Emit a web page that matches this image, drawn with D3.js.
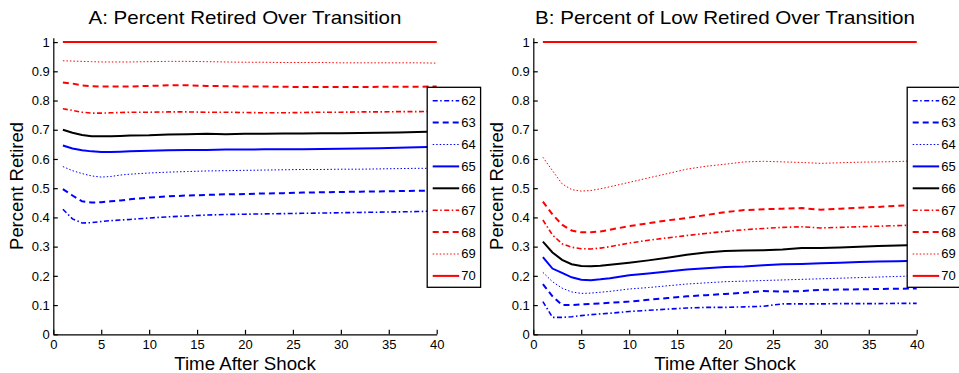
<!DOCTYPE html>
<html>
<head>
<meta charset="utf-8">
<script src="https://cdn.jsdelivr.net/npm/d3@7"></script>
<style>
  body { margin: 0; background: #fff; }
  text { font-family: "Liberation Sans", Arial, sans-serif; fill: #000; }
</style>
</head>
<body>
<svg width="959" height="373"></svg>
<script>
//Retirement ages shown in the legend
let ages = ["62", "63", "64", "65", "66", "67", "68", "69", "70"];
let years = [1, 2, 3, 4, 5, 6, 7, 8, 10, 12, 14, 16, 18, 20, 22, 24, 26, 28, 30, 32, 34, 36, 38, 40];
let xTicks = [0, 5, 10, 15, 20, 25, 30, 35, 40];
let yTicks = [0, 0.1, 0.2, 0.3, 0.4, 0.5, 0.6, 0.7, 0.8, 0.9, 1];

//Panel A: percent retired
let a62 = [0.428,0.395,0.381,0.382,0.386,0.389,0.391,0.393,0.398,0.402,0.405,0.408,0.410,0.411,0.412,0.413,0.414,0.415,0.416,0.417,0.418,0.419,0.420,0.422];
let a63 = [0.497,0.475,0.455,0.451,0.452,0.455,0.458,0.462,0.468,0.472,0.475,0.477,0.479,0.480,0.482,0.483,0.485,0.486,0.487,0.488,0.489,0.490,0.491,0.491];
let a64 = [0.574,0.560,0.550,0.542,0.538,0.540,0.545,0.548,0.552,0.555,0.557,0.559,0.560,0.561,0.562,0.563,0.564,0.564,0.565,0.565,0.566,0.567,0.568,0.568];
let a65 = [0.646,0.636,0.630,0.626,0.624,0.624,0.625,0.626,0.628,0.630,0.631,0.631,0.632,0.632,0.633,0.633,0.633,0.634,0.635,0.636,0.637,0.638,0.640,0.642];
let a66 = [0.700,0.690,0.682,0.678,0.678,0.678,0.679,0.680,0.681,0.684,0.685,0.686,0.685,0.686,0.686,0.687,0.687,0.688,0.688,0.689,0.690,0.691,0.692,0.694];
let a67 = [0.772,0.766,0.760,0.757,0.757,0.758,0.759,0.760,0.760,0.761,0.761,0.760,0.760,0.759,0.758,0.758,0.759,0.760,0.760,0.761,0.761,0.762,0.762,0.763];
let a68 = [0.862,0.858,0.852,0.849,0.848,0.848,0.848,0.848,0.850,0.852,0.852,0.850,0.849,0.848,0.848,0.847,0.846,0.846,0.846,0.846,0.847,0.847,0.847,0.848];
let a69 = [0.936,0.935,0.934,0.933,0.932,0.932,0.932,0.932,0.933,0.934,0.934,0.933,0.932,0.931,0.931,0.930,0.930,0.930,0.929,0.929,0.929,0.929,0.929,0.928];
let a70 = [1,1,1,1,1,1,1,1,1,1,1,1,1,1,1,1,1,1,1,1,1,1,1,1];

//Panel B: percent of low retired
let b62 = [0.112,0.058,0.058,0.060,0.064,0.067,0.070,0.072,0.078,0.082,0.086,0.090,0.092,0.092,0.094,0.096,0.104,0.104,0.104,0.105,0.105,0.105,0.106,0.106];
let b63 = [0.172,0.130,0.100,0.100,0.102,0.104,0.106,0.108,0.112,0.118,0.124,0.130,0.134,0.138,0.142,0.148,0.146,0.148,0.152,0.153,0.154,0.155,0.156,0.157];
let b64 = [0.212,0.180,0.158,0.145,0.140,0.141,0.144,0.147,0.155,0.160,0.166,0.172,0.176,0.180,0.182,0.184,0.186,0.188,0.190,0.192,0.194,0.196,0.198,0.200];
let b65 = [0.264,0.225,0.210,0.195,0.187,0.185,0.188,0.192,0.202,0.208,0.215,0.222,0.226,0.230,0.232,0.236,0.240,0.241,0.243,0.245,0.247,0.249,0.250,0.252];
let b66 = [0.317,0.280,0.255,0.240,0.234,0.233,0.235,0.238,0.245,0.253,0.262,0.272,0.280,0.285,0.287,0.288,0.290,0.295,0.295,0.297,0.300,0.302,0.304,0.306];
let b67 = [0.391,0.340,0.310,0.298,0.293,0.292,0.295,0.300,0.312,0.322,0.330,0.338,0.345,0.352,0.358,0.362,0.366,0.368,0.364,0.366,0.368,0.370,0.372,0.374];
let b68 = [0.454,0.410,0.375,0.355,0.349,0.349,0.352,0.358,0.370,0.380,0.390,0.398,0.408,0.418,0.425,0.428,0.430,0.432,0.426,0.430,0.433,0.436,0.440,0.442];
let b69 = [0.606,0.560,0.515,0.495,0.490,0.492,0.498,0.505,0.520,0.535,0.550,0.565,0.575,0.582,0.590,0.592,0.590,0.588,0.585,0.587,0.589,0.590,0.591,0.594];
let b70 = [1,1,1,1,1,1,1,1,1,1,1,1,1,1,1,1,1,1,1,1,1,1,1,1];

let panelA = [a62, a63, a64, a65, a66, a67, a68, a69, a70];
let panelB = [b62, b63, b64, b65, b66, b67, b68, b69, b70];

//Line style per age: colour, width, dash pattern
let styles = [
  {c: "#0000ff", w: 1.6, d: "5,2.5,1.5,2.5"},
  {c: "#0000ff", w: 2,   d: "6,4"},
  {c: "#0000ff", w: 1,   d: "1.5,2"},
  {c: "#0000ff", w: 2,   d: null},
  {c: "#000000", w: 2,   d: null},
  {c: "#ff0000", w: 1.6, d: "5,2.5,1.5,2.5"},
  {c: "#ff0000", w: 2,   d: "6,4"},
  {c: "#ff0000", w: 1,   d: "1.5,2"},
  {c: "#ff0000", w: 2,   d: null}
];

let svg = d3.select("svg");
let plotTop = 37.7, plotBottom = 334.3, plotW = 383.4;

function drawPanel(left, values, title, titleLen){
  let g = svg.append("g").attr("transform", "translate(" + left + ",0)");
  let x = d3.scaleLinear().domain([0, 40]).range([0, plotW]);
  let y = d3.scaleLinear().domain([0, 1.015]).range([plotBottom, plotTop]);

  //Lines
  let line = d3.line().x((d, i) => x(years[i])).y(d => y(d));
  values.forEach(function(v, k){
    g.append("path")
      .attr("d", line(v))
      .attr("fill", "none")
      .attr("stroke", styles[k].c)
      .attr("stroke-width", styles[k].w)
      .attr("stroke-dasharray", styles[k].d);
  });

  //Axes with inward ticks, left and bottom only
  let xAxis = g.append("g")
    .attr("transform", "translate(0," + plotBottom + ")")
    .call(d3.axisBottom(x).tickValues(xTicks).tickSize(-4.5).tickSizeOuter(0).tickPadding(5.5).tickFormat(d3.format("d")));
  let yAxis = g.append("g")
    .call(d3.axisLeft(y).tickValues(yTicks).tickSize(-4.5).tickSizeOuter(0).tickPadding(3.5).tickFormat(d => d == 0 || d == 1 ? d : d3.format(".1f")(d)));
  [xAxis, yAxis].forEach(function(a){
    a.selectAll("path, line").attr("stroke", "#000").attr("stroke-width", 1.2);
    a.selectAll("text").attr("font-size", 13).attr("font-family", "Liberation Sans, Arial, sans-serif").attr("fill", "#000");
  });

  //Titles
  g.append("text").attr("x", plotW / 2).attr("y", 24.3).attr("text-anchor", "middle")
    .attr("font-size", 19).attr("textLength", titleLen).attr("lengthAdjust", "spacingAndGlyphs").text(title);
  g.append("text").attr("x", plotW / 2).attr("y", 369.5).attr("text-anchor", "middle")
    .attr("font-size", 18.7).text("Time After Shock");
  g.append("text").attr("transform", "translate(" + (-30) + ",186) rotate(-90)")
    .attr("text-anchor", "middle").attr("font-size", 18.4).text("Percent Retired");

  //Legend box overlapping the line ends
  let lg = g.append("g").attr("transform", "translate(" + (plotW - 9.5) + ",87.3)");
  lg.append("rect").attr("width", 53.4).attr("height", 200)
    .attr("fill", "#fff").attr("stroke", "#000").attr("stroke-width", 1.3);
  ages.forEach(function(a, k){
    let ly = 13.4 + k * 21.9;
    lg.append("line").attr("x1", 5.5).attr("x2", 32).attr("y1", ly).attr("y2", ly)
      .attr("stroke", styles[k].c).attr("stroke-width", styles[k].w)
      .attr("stroke-dasharray", styles[k].d);
    lg.append("text").attr("x", 34).attr("y", ly + 4.5).attr("font-size", 13).text(a);
  });
}

drawPanel(53.3, panelA, "A: Percent Retired Over Transition", 313);
drawPanel(533.3, panelB, "B: Percent of Low Retired Over Transition", 380);
</script>
</body>
</html>
